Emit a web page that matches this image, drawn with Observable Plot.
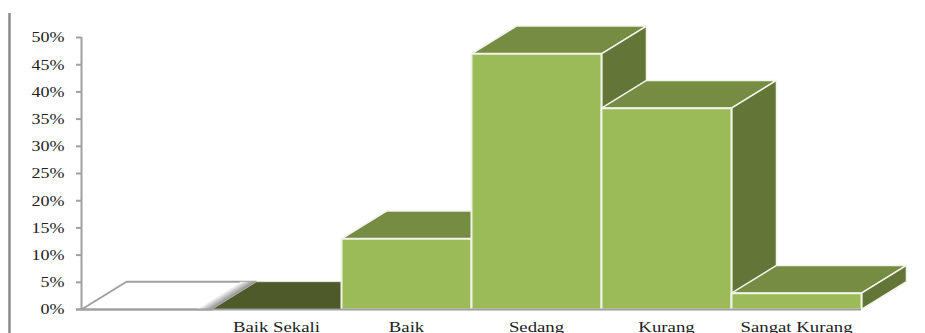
<!DOCTYPE html>
<html>
<head>
<meta charset="utf-8">
<script src="https://cdn.jsdelivr.net/npm/d3@7"></script>
<script src="https://cdn.jsdelivr.net/npm/@observablehq/plot@0.6"></script>
<style>
  html, body { margin: 0; padding: 0; background: #fff; overflow: hidden; }
  svg { display: block; }
</style>
</head>
<body>
<div id="chart"></div>
<script>
// Assessment categories and the share of responses in each, in percent.
const categories = ["", "Baik Sekali", "Baik", "Sedang", "Kurang", "Sangat Kurang"];
const values = [0, 0, 13, 47, 37, 3];
const yTicks = [0, 5, 10, 15, 20, 25, 30, 35, 40, 45, 50];

// Colours of the extruded column faces.
const frontColor = "#9bbb59";
const topColor = "#778c43";
const sideColor = "#637537";
const floorColor = "#4f5a2b";
const edgeColor = "#f2f4ec";
const axisColor = "#a0a0a0";
const textColor = "#222";

// Extrusion depth, in data units of the two scales.
const depthX = 0.346;
const depthY = 5.1;

const face = (pts, fill, stroke, strokeWidth) =>
  Plot.line([...pts, pts[0]], {
    x: d => d[0], y: d => d[1], fill, stroke, strokeWidth,
    curve: "linear", strokeLinejoin: "miter"
  });

const barFaces = values.flatMap((v, i) => {
  const top = [[i, v], [i + depthX, v + depthY], [i + 1 + depthX, v + depthY], [i + 1, v]];
  if (categories[i] === "") return [];
  if (v === 0) return [face(top, floorColor, edgeColor, 0.5)];
  return [
    face(top, topColor, edgeColor, 1.5),
    face([[i + 1, 0], [i + 1 + depthX, depthY], [i + 1 + depthX, v + depthY], [i + 1, v]], sideColor, edgeColor, 1.5),
    face([[i, 0], [i, v], [i + 1, v], [i + 1, 0]], frontColor, edgeColor, 2)
  ];
});

// Soft shading along the right edge of the empty floor panel; the gradient
// vector runs across the slanted edge of the band.
const shadeDefs = () => {
  const defs = d3.create("svg:defs");
  const g = defs.append("linearGradient").attr("id", "floor-shade")
    .attr("x1", 0).attr("y1", 1).attr("x2", 0.17).attr("y2", 1.125);
  g.append("stop").attr("offset", "0%").attr("stop-color", "#fff");
  g.append("stop").attr("offset", "100%").attr("stop-color", "#8a8a8a");
  return defs.node();
};
const shade = face(
  [[0.88, 0], [1, 0], [1 + depthX, depthY], [0.88 + depthX, depthY]],
  "url(#floor-shade)", "none", 0
);

const labelled = categories.map((c, i) => ({c, at: i + 0.5})).filter(d => d.c !== "");

const chart = Plot.plot({
  width: 925,
  height: 333,
  marginTop: 0, marginBottom: 0, marginLeft: 0, marginRight: 0,
  style: {fontFamily: "'Liberation Serif', serif", fontSize: "15px", color: textColor, background: "#fff"},
  x: {type: "linear", domain: [0, 6], range: [81, 861], axis: null},
  y: {type: "linear", domain: [0, 50], range: [309, 37], axis: null},
  marks: [
    shadeDefs,
    // frame line running down the left side of the figure
    Plot.ruleX([-0.554], {y1: -4.4, y2: 54.4, stroke: "#8c8c8c", strokeWidth: 2.5}),
    Plot.axisY(yTicks, {
      anchor: "left", x: 0, tickSize: 5, tickPadding: 12, stroke: axisColor, strokeWidth: 2, strokeOpacity: 1,
      tickFormat: d => d + "%", label: null, fill: textColor
    }),
    Plot.ruleX([0], {y1: 0, y2: 50, stroke: axisColor, strokeWidth: 2}),
    face([[0, 0], [0 + depthX, depthY], [1 + depthX, depthY], [1, 0]], "#fff", axisColor, 2),
    shade,
    ...barFaces,
    Plot.ruleY([0], {x1: -0.04, x2: 6, stroke: axisColor, strokeWidth: 2}),
    Plot.text(labelled, {x: "at", y: -3.3, text: "c", lineAnchor: "middle", fill: textColor})
  ]
});

document.getElementById("chart").appendChild(chart);

// The lettering is set wide: scale each label's advance to give it that look.
chart.querySelectorAll("text").forEach(t => {
  const spans = t.querySelectorAll("tspan");
  const el = spans.length ? spans[0] : t;
  const w = el.getComputedTextLength();
  if (w > 0) {
    const wide = t.textContent.includes("%") ? 1.2 : 1.25;
    el.setAttribute("textLength", (w * wide).toFixed(1));
    el.setAttribute("lengthAdjust", "spacingAndGlyphs");
  }
});
</script>
</body>
</html>
